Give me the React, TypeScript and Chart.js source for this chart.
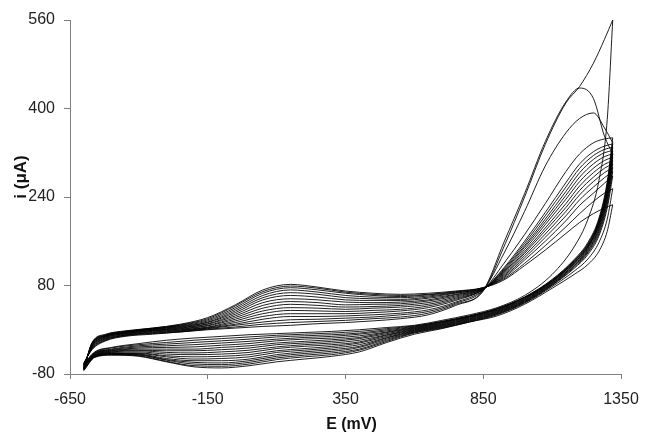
import { useEffect, useRef } from 'react';
import { Chart, registerables } from 'chart.js';

Chart.register(...registerables);

// Potential grids (mV)
const forwardE = [-600, -570, -520, -450, -350, -250, -150, -50, 50, 150, 250, 350, 450, 550, 650, 750, 850, 925, 1000, 1075, 1150, 1200, 1250, 1290, 1320];
const reverseE = [1320, 1300, 1270, 1230, 1180, 1100, 1000, 900, 800, 700, 600, 500, 400, 300, 200, 100, 0, -100, -200, -300, -400, -500, -560, -600];

// Forward (anodic) scans, one row per cycle (µA)
const forwardI = [
  [-60, -36, -20, -12, -8, -4, 0, 3, 6, 8, 11, 13, 16, 20, 27, 44, 70, 150, 240, 335, 410, 440, 482, 525, 560],
  [-61, -35, -19, -11, -7, -4, 1, 5, 10, 13, 15, 17, 20, 23, 30, 46, 71, 158, 246, 340, 412, 437, 418, 350, 318],
  [-62, -34, -18, -10, -6, -3, 2, 8, 14, 18, 19, 21, 23, 27, 33, 48, 72, 138, 214, 296, 356, 382, 392, 365, 338],
  [-63, -33, -17, -10, -5, -2, 3, 10, 19, 24, 24, 25, 27, 30, 36, 50, 72, 120, 172, 228, 286, 318, 338, 345, 347],
  [-64, -32, -16, -9, -4, -1, 4, 13, 24, 29, 29, 29, 31, 34, 40, 53, 73, 112, 160, 212, 266, 300, 322, 332, 336],
  [-64, -31, -15, -8, -3, 0, 5, 16, 29, 35, 34, 33, 35, 37, 43, 55, 73, 110, 156, 206, 258, 292, 315, 326, 330],
  [-65, -30, -14, -7, -2, 1, 7, 19, 34, 40, 39, 37, 39, 41, 46, 57, 73, 108, 152, 200, 250, 284, 308, 320, 324],
  [-66, -29, -13, -7, -1, 2, 8, 22, 39, 46, 44, 41, 42, 44, 49, 59, 74, 106, 149, 195, 243, 276, 300, 313, 318],
  [-67, -29, -13, -6, -1, 3, 10, 25, 44, 51, 49, 45, 46, 47, 52, 61, 74, 104, 145, 190, 236, 268, 292, 306, 312],
  [-68, -28, -12, -5, 0, 4, 11, 28, 49, 56, 54, 50, 49, 50, 54, 63, 74, 102, 141, 184, 228, 260, 284, 299, 306],
  [-69, -27, -11, -5, 1, 5, 13, 31, 54, 62, 59, 54, 53, 53, 57, 64, 75, 100, 138, 179, 221, 252, 276, 292, 300],
  [-70, -26, -11, -4, 1, 6, 14, 34, 58, 67, 64, 58, 56, 55, 59, 66, 75, 98, 134, 173, 214, 244, 268, 284, 293],
  [-70, -26, -10, -4, 2, 7, 16, 37, 62, 72, 68, 62, 59, 58, 61, 67, 75, 96, 130, 167, 206, 235, 258, 275, 286],
  [-71, -25, -10, -3, 2, 8, 18, 40, 66, 76, 72, 66, 62, 60, 63, 68, 76, 94, 126, 160, 197, 225, 247, 265, 278],
  [-72, -24, -9, -3, 3, 9, 20, 43, 69, 79, 75, 68, 64, 62, 64, 69, 76, 92, 120, 152, 186, 210, 232, 247, 255],
  [-73, -23, -8, -2, 3, 10, 22, 45, 72, 82, 77, 70, 66, 64, 66, 70, 76, 90, 116, 144, 174, 194, 210, 220, 226],
];

// Reverse (cathodic) scans, one row per cycle (µA)
const reverseI = [
  [560, 380, 270, 200, 150, 100, 62, 40, 27, 17, 8, 4, 0, -3, -5, -7, -9, -12, -15, -19, -25, -32, -40, -61],
  [318, 250, 192, 150, 122, 88, 58, 38, 25, 15, 7, 2, -3, -6, -8, -10, -13, -16, -19, -23, -27, -33, -41, -62],
  [338, 262, 198, 155, 125, 90, 59, 38, 25, 15, 6, 0, -6, -9, -11, -13, -17, -20, -23, -26, -29, -35, -42, -63],
  [347, 268, 202, 158, 127, 91, 59, 38, 24, 14, 5, -2, -8, -12, -14, -17, -21, -24, -27, -29, -31, -36, -43, -64],
  [336, 260, 198, 155, 125, 89, 58, 37, 24, 13, 4, -4, -11, -15, -17, -20, -25, -28, -31, -32, -33, -37, -43, -64],
  [330, 256, 195, 153, 124, 88, 57, 36, 23, 12, 3, -5, -14, -18, -21, -24, -29, -32, -35, -35, -35, -38, -44, -65],
  [324, 252, 192, 151, 122, 87, 56, 35, 22, 11, 2, -7, -16, -21, -24, -27, -33, -36, -38, -38, -37, -39, -45, -66],
  [318, 248, 190, 149, 121, 86, 55, 34, 21, 10, 1, -9, -19, -24, -27, -31, -37, -40, -42, -41, -38, -40, -45, -67],
  [312, 244, 187, 147, 119, 85, 54, 33, 20, 9, 0, -10, -22, -27, -30, -34, -41, -44, -45, -44, -40, -41, -46, -68],
  [306, 240, 184, 145, 118, 84, 53, 32, 19, 8, -1, -12, -24, -30, -34, -38, -45, -48, -49, -47, -42, -42, -46, -69],
  [300, 236, 181, 143, 116, 83, 52, 31, 18, 7, -2, -14, -27, -33, -37, -41, -49, -52, -53, -49, -43, -43, -47, -70],
  [293, 231, 178, 141, 115, 82, 51, 30, 17, 6, -3, -15, -30, -36, -40, -45, -53, -56, -56, -52, -44, -43, -48, -70],
  [286, 226, 174, 139, 113, 81, 50, 29, 16, 5, -4, -17, -32, -39, -43, -48, -56, -60, -59, -54, -45, -44, -48, -71],
  [278, 220, 170, 136, 111, 80, 49, 28, 15, 4, -5, -19, -35, -42, -46, -51, -59, -63, -62, -55, -46, -45, -49, -72],
  [255, 200, 158, 128, 106, 78, 48, 27, 14, 3, -6, -21, -37, -45, -49, -54, -62, -66, -65, -57, -47, -45, -49, -73],
  [226, 178, 142, 118, 100, 75, 46, 25, 14, 2, -8, -23, -40, -48, -53, -58, -65, -69, -67, -58, -48, -46, -50, -74],
];

const xTicks = [-650, -150, 350, 850, 1350];
const yTicks = [-80, 80, 240, 400, 560];
const xTitle = 'E (mV)';
const yTitle = 'i (\u03bcA)';

const FONT = '"Liberation Sans", Arial, Helvetica, sans-serif';

export default function App() {
  const ref = useRef<HTMLCanvasElement>(null);

  useEffect(() => {
    if (!ref.current) return;
    const lineStyle = {
      showLine: true,
      borderColor: 'rgba(0,0,0,0.88)',
      borderWidth: 1,
      pointRadius: 0,
      cubicInterpolationMode: 'monotone' as const,
      fill: false,
    };
    const datasets: any[] = [];
    forwardI.forEach((row) => {
      datasets.push({ ...lineStyle, data: forwardE.map((e, i) => ({ x: e, y: row[i] })) });
    });
    reverseI.forEach((row) => {
      datasets.push({ ...lineStyle, data: reverseE.map((e, i) => ({ x: e, y: row[i] })) });
    });

    const titles = {
      id: 'axisTitles',
      afterDraw(chart: any) {
        const ctx = chart.ctx;
        ctx.save();
        ctx.fillStyle = '#111';
        ctx.textAlign = 'center';
        ctx.textBaseline = 'middle';
        ctx.font = `bold 16px ${FONT}`;
        ctx.fillText(xTitle, (chart.chartArea.left + chart.chartArea.right) / 2 + 6, 425);
        ctx.translate(21, 177);
        ctx.rotate(-Math.PI / 2);
        ctx.font = `bold 17px ${FONT}`;
        ctx.fillText(yTitle, 0, 0);
        ctx.restore();
      },
    };

    const chart = new Chart(ref.current, {
      type: 'scatter',
      data: { datasets },
      options: {
        responsive: false,
        animation: false,
        devicePixelRatio: 1,
        layout: { padding: { left: 0, top: 20, right: 25, bottom: 0 } },
        plugins: { legend: { display: false }, tooltip: { enabled: false } },
        scales: {
          x: {
            type: 'linear',
            min: xTicks[0],
            max: xTicks[xTicks.length - 1],
            afterBuildTicks: (s: any) => { s.ticks = xTicks.map((v) => ({ value: v })); },
            ticks: { color: '#222', font: { family: FONT, size: 16 }, padding: 11, maxRotation: 0, callback: (v: any) => String(v) },
            grid: { drawOnChartArea: false, drawTicks: true, tickLength: 5, color: '#808080' },
            border: { color: '#808080', width: 1 },
            afterFit: (s: any) => { s.height = 61; s.paddingLeft = 0; s.paddingRight = 0; },
          },
          y: {
            type: 'linear',
            min: yTicks[0],
            max: yTicks[yTicks.length - 1],
            afterBuildTicks: (s: any) => { s.ticks = yTicks.map((v) => ({ value: v })); },
            ticks: { color: '#222', font: { family: FONT, size: 16 }, padding: 9, callback: (v: any) => String(v) },
            grid: { drawOnChartArea: false, drawTicks: true, tickLength: 6, color: '#808080' },
            border: { color: '#808080', width: 1 },
            afterFit: (s: any) => { s.width = 70; s.paddingTop = 0; s.paddingBottom = 0; },
          },
        },
      },
      plugins: [titles],
    });
    return () => chart.destroy();
  }, []);

  return (
    <div style={{ position: 'fixed', left: 0, top: 0, width: 646, height: 435, background: '#fff' }}>
      <canvas ref={ref} width={646} height={435} style={{ display: 'block' }} />
    </div>
  );
}
